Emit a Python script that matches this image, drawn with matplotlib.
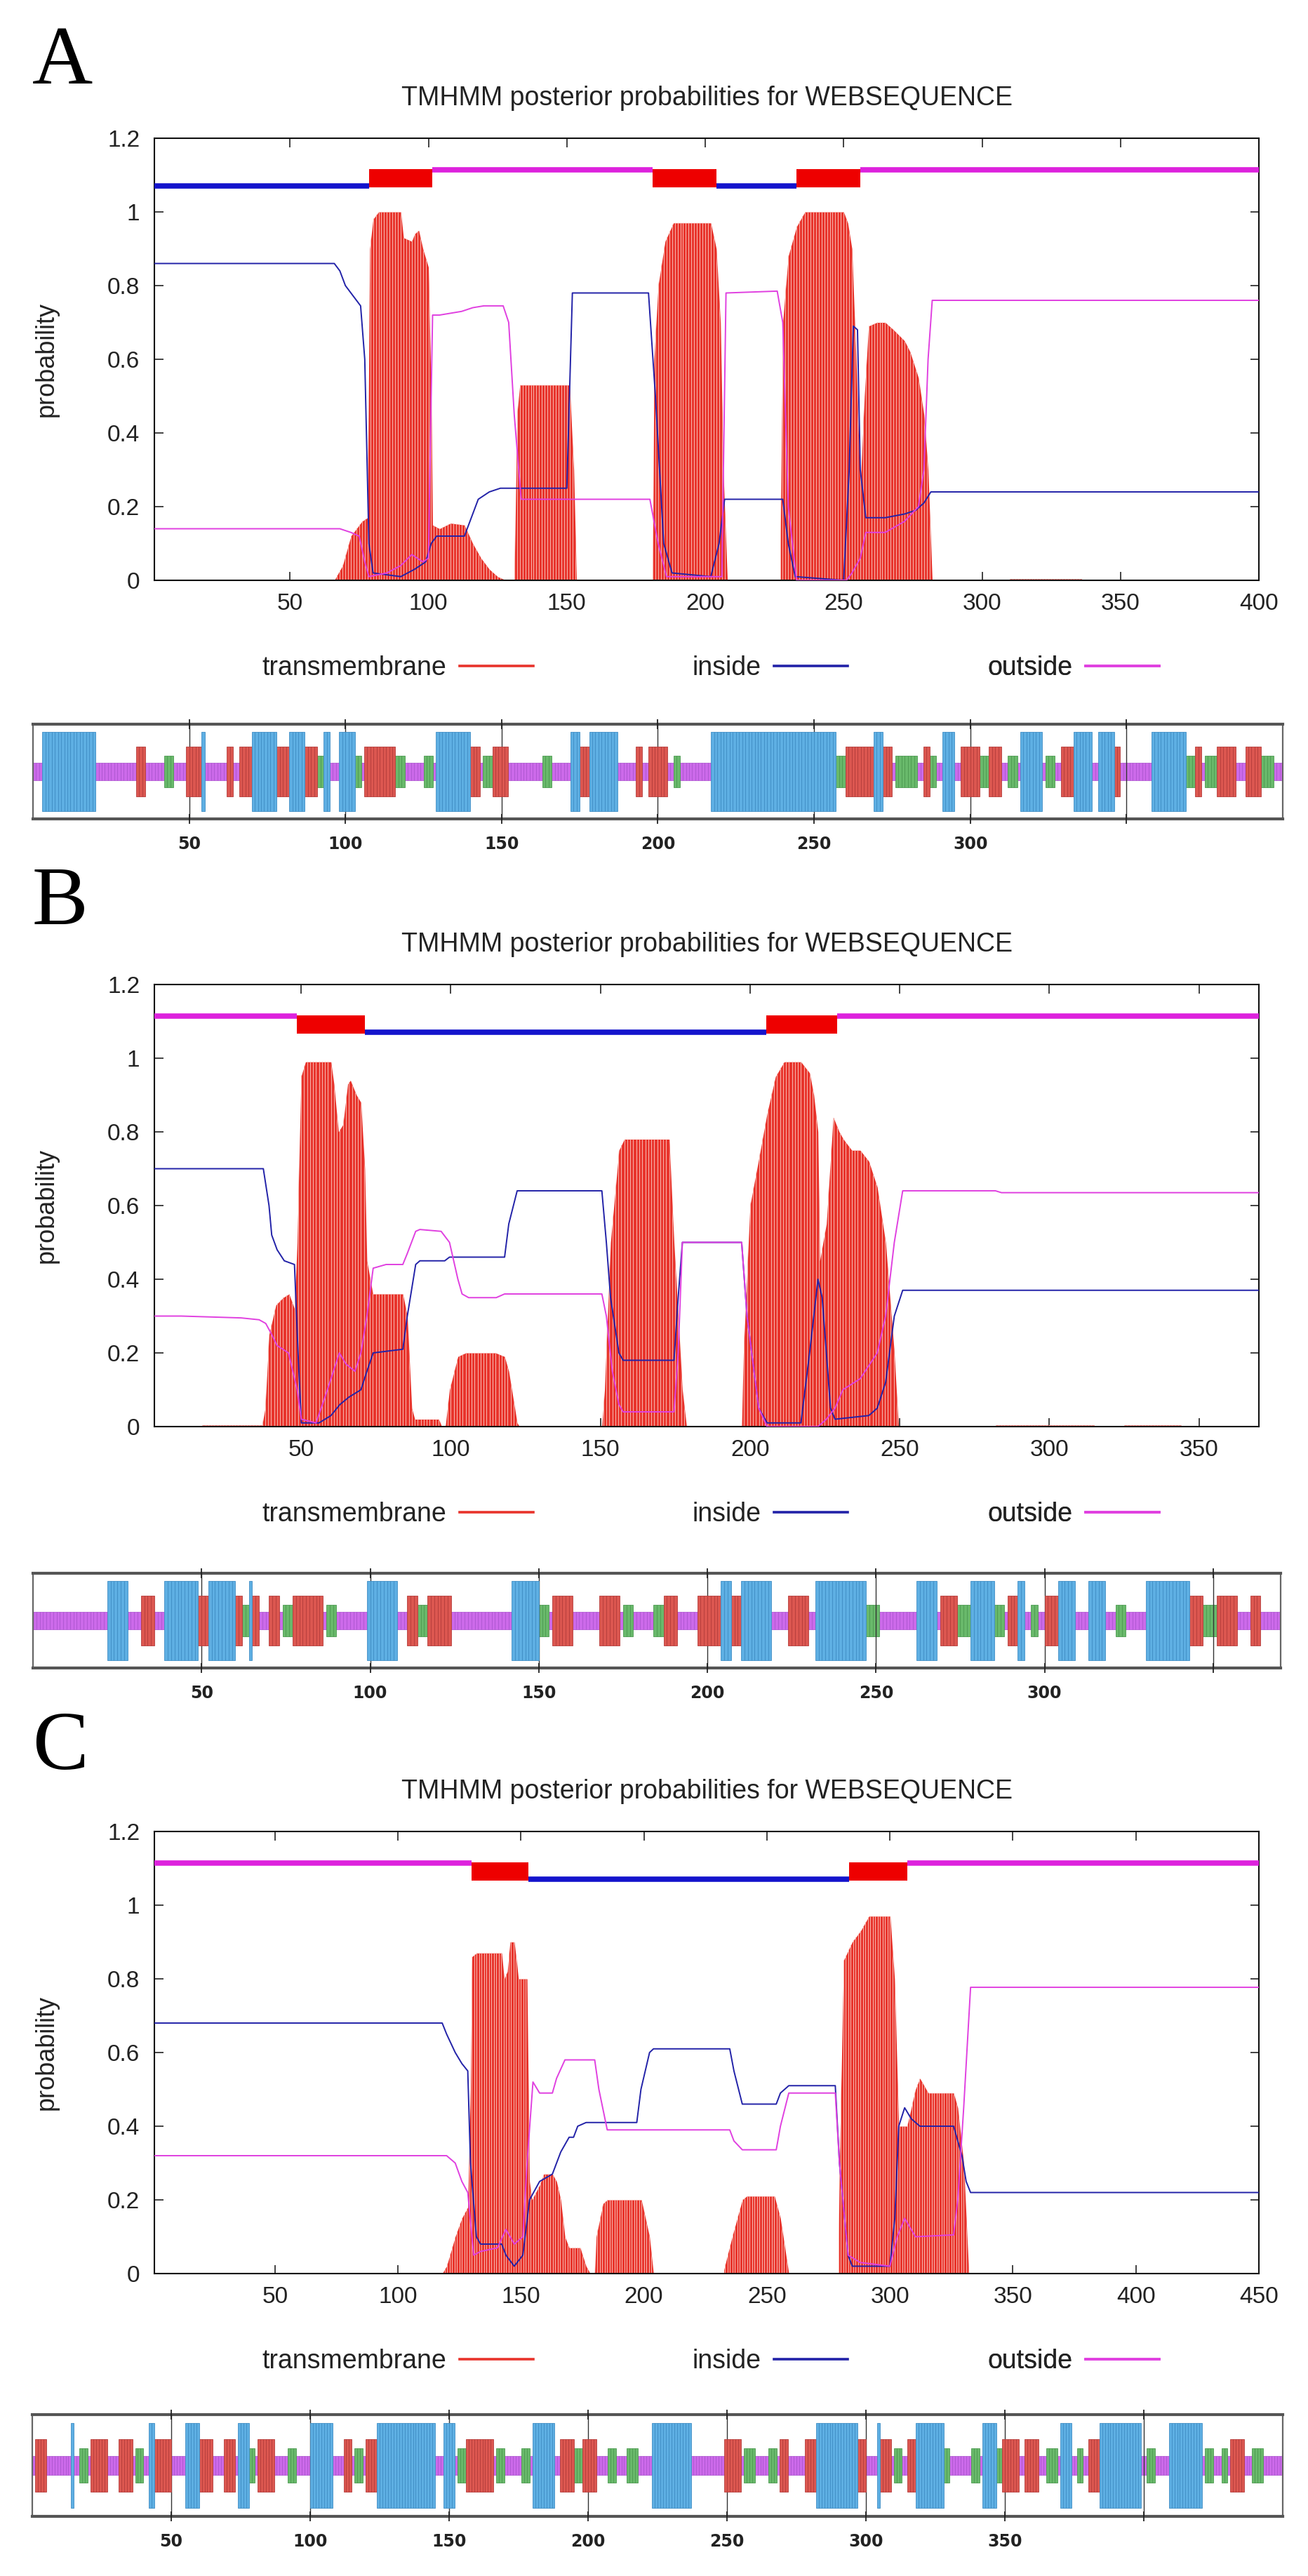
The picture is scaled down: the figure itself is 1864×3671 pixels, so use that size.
import numpy as np
import matplotlib
matplotlib.use('Agg')
import matplotlib.pyplot as plt
from matplotlib.lines import Line2D

# ---------------------------------------------------------------- data
TITLE = "TMHMM posterior probabilities for WEBSEQUENCE"
LEGEND_LABELS = ["transmembrane", "inside", "outside"]
Y_TICKS = [0, 0.2, 0.4, 0.6, 0.8, 1.0, 1.2]
Y_TICK_LABELS = ["0", "0.2", "0.4", "0.6", "0.8", "1", "1.2"]

# ---- panel A (length 400)
len_A = 400
xticks_A = [50, 100, 150, 200, 250, 300, 350, 400]
tm_A_x = [1, 66, 69, 72, 76, 78, 78.8, 80, 82, 90, 91, 94, 95, 96.5, 98, 100, 101, 101.5, 104, 108, 113, 116,
          119, 122, 125, 128, 131, 132, 133, 151, 152.5, 153.5, 181, 181.5, 183, 185.5, 188.5, 202, 204, 205.5,
          206.5, 208, 227, 228, 230, 233, 236, 250, 251.5, 253, 254.5, 256, 257.5, 259, 262, 265, 268, 272,
          274, 277, 279, 280.5, 282, 310, 310, 336, 336, 400]
tm_A_y = [0, 0, 0.04, 0.12, 0.16, 0.17, 0.9, 0.98, 1.0, 1.0, 0.93, 0.92, 0.94, 0.95, 0.9, 0.85, 0.5, 0.15, 0.14,
          0.155, 0.15, 0.1, 0.06, 0.03, 0.01, 0, 0, 0.45, 0.53, 0.53, 0.3, 0, 0, 0.6, 0.8, 0.92, 0.97, 0.97, 0.9,
          0.7, 0.3, 0, 0, 0.7, 0.88, 0.96, 1.0, 1.0, 0.97, 0.9, 0.6, 0.25, 0.5, 0.69, 0.7, 0.7, 0.68, 0.65,
          0.62, 0.55, 0.45, 0.3, 0, 0, 0.004, 0.004, 0, 0]
in_A_x = [1, 66, 68, 70, 73, 75.5, 77, 78.5, 80, 90, 95, 99, 101, 103, 113, 115, 118, 122, 126, 150, 152,
          179.5, 182, 185, 188, 202, 205, 207, 228, 230, 232.5, 250, 252, 253.5, 255, 256, 258, 265, 272, 276,
          279, 281.5, 400]
in_A_y = [0.86, 0.86, 0.84, 0.8, 0.77, 0.745, 0.6, 0.1, 0.02, 0.01, 0.03, 0.05, 0.1, 0.12, 0.12, 0.16, 0.22,
          0.24, 0.25, 0.25, 0.78, 0.78, 0.5, 0.1, 0.02, 0.01, 0.1, 0.22, 0.22, 0.1, 0.01, 0.0, 0.3, 0.69, 0.68,
          0.3, 0.17, 0.17, 0.18, 0.19, 0.21, 0.24, 0.24]
out_A_x = [1, 68, 72, 75, 77, 78.5, 85, 90, 94, 98, 100, 101.5, 104, 112, 116, 120, 127, 129, 131, 133.5, 180,
           183, 186, 206, 207.5, 226, 228, 230, 233, 251, 253, 256, 258, 265, 272, 277, 279, 280.5, 282, 400]
out_A_y = [0.14, 0.14, 0.13, 0.12, 0.05, 0.01, 0.02, 0.04, 0.07, 0.05, 0.06, 0.72, 0.72, 0.73, 0.74, 0.745,
           0.745, 0.7, 0.45, 0.22, 0.22, 0.1, 0.01, 0.01, 0.78, 0.785, 0.7, 0.2, 0.0, 0.0, 0.02, 0.06, 0.13,
           0.13, 0.16, 0.2, 0.3, 0.6, 0.76, 0.76]
topo_in_A = [(1, 78.5), (204, 233)]
topo_out_A = [(101.5, 181), (256, 400)]
topo_tm_A = [(78.5, 101.5), (181, 204), (233, 256)]
strip_ticks_A = [50, 100, 150, 200, 250, 300, 350]
strip_labels_A = ["50", "100", "150", "200", "250", "300", ""]
strip_blue_A = [(4, 20), (55, 55), (71, 78), (83, 87), (94, 95), (99, 103), (130, 140), (173, 175), (179, 187),
                (218, 257), (270, 272), (292, 295), (317, 323), (334, 339), (342, 346), (359, 369)]
strip_red_A = [(34, 36), (50, 54), (63, 64), (67, 70), (79, 82), (88, 91), (107, 116), (141, 143), (148, 152),
               (176, 178), (194, 195), (198, 203), (261, 269), (273, 275), (286, 287), (298, 303), (307, 310),
               (330, 333), (347, 348), (373, 374), (380, 385), (389, 393)]
strip_green_A = [(43, 45), (92, 93), (104, 105), (117, 119), (126, 128), (145, 147), (164, 166), (206, 207),
                 (258, 260), (277, 280), (281, 283), (288, 289), (304, 306), (313, 315), (325, 327), (370, 372),
                 (376, 379), (394, 397)]

# ---- panel B (length 370)
len_B = 370
xticks_B = [50, 100, 150, 200, 250, 300, 350]
tm_B_x = [1, 17, 17, 37, 38, 39.3, 41.6, 44, 46, 47.8, 48.7, 50, 51.5, 60, 61, 62.5, 64, 65.6, 66.5, 68.5, 70,
          71.3, 72, 74, 84, 85.5, 87, 88, 96, 97, 98.2, 99.6, 102.4, 105, 115, 118, 119.4, 122.2, 123, 150.5,
          151.4, 153.4, 156.2, 158, 173, 174.6, 177.4, 178.8, 197.2, 197.8, 200, 203, 205.7, 208.5, 211.4, 217,
          219.9, 221.3, 222.7, 223.3, 225.5, 227.8, 229.8, 231.2, 234, 236.8, 239.7, 242.5, 245.3, 248.2,
          249.6, 282, 282, 315, 315, 325, 325, 344, 344, 370]
tm_B_y = [0, 0, 0.004, 0.004, 0.05, 0.25, 0.33, 0.35, 0.36, 0.32, 0.5, 0.95, 0.99, 0.99, 0.93, 0.8, 0.82, 0.93,
          0.94, 0.9, 0.88, 0.7, 0.45, 0.36, 0.36, 0.3, 0.05, 0.02, 0.02, 0.0, 0.0, 0.1, 0.19, 0.2, 0.2, 0.19,
          0.15, 0.01, 0, 0, 0.1, 0.5, 0.75, 0.78, 0.78, 0.5, 0.1, 0, 0, 0.2, 0.6, 0.73, 0.85, 0.95, 0.99, 0.99,
          0.96, 0.9, 0.8, 0.45, 0.55, 0.84, 0.8, 0.78, 0.75, 0.75, 0.72, 0.65, 0.5, 0.2, 0, 0, 0.004, 0.004, 0,
          0, 0.004, 0.004, 0, 0]
in_B_x = [1, 37.4, 39.3, 40.2, 42, 44.4, 47.8, 49, 50.1, 56, 60, 63, 66, 70, 72, 74.1, 84, 85.5, 88.3, 89.7, 98,
          99.6, 118, 119.4, 122.2, 150.5, 152, 153.4, 156.2, 157.6, 174.6, 176, 177.4, 197.2, 199, 202.9, 205.7,
          217, 219.9, 222.7, 224.1, 226.9, 228.4, 239.7, 242.5, 245.3, 248.2, 251, 370]
in_B_y = [0.70, 0.70, 0.6, 0.52, 0.48, 0.45, 0.44, 0.2, 0.01, 0.01, 0.03, 0.06, 0.08, 0.1, 0.15, 0.2, 0.21, 0.3,
          0.44, 0.45, 0.45, 0.46, 0.46, 0.55, 0.64, 0.64, 0.5, 0.35, 0.2, 0.18, 0.18, 0.35, 0.5, 0.5, 0.3, 0.05,
          0.01, 0.01, 0.2, 0.4, 0.35, 0.05, 0.02, 0.03, 0.05, 0.12, 0.3, 0.37, 0.37]
out_B_x = [1, 10, 30, 36, 38.2, 40.2, 42, 45.8, 48.7, 50.1, 55, 58, 60.8, 62.8, 65, 68, 70, 72, 74.1, 78.4, 84,
           85.5, 88.3, 89.7, 96.8, 99.6, 102.4, 103.8, 106, 115.2, 118, 150.5, 152, 154, 156.2, 157.6, 174.6,
           176, 177.4, 197.2, 199, 202.9, 205.7, 222.7, 225.5, 228.4, 231, 236.8, 242.5, 245.3, 248.2, 251, 282,
           284, 370]
out_B_y = [0.30, 0.30, 0.295, 0.29, 0.28, 0.25, 0.22, 0.2, 0.1, 0.02, 0.01, 0.08, 0.15, 0.2, 0.17, 0.15, 0.2,
           0.3, 0.43, 0.44, 0.44, 0.47, 0.53, 0.535, 0.53, 0.5, 0.4, 0.36, 0.35, 0.35, 0.36, 0.36, 0.3, 0.15,
           0.06, 0.04, 0.04, 0.2, 0.5, 0.5, 0.3, 0.05, 0.0, 0.0, 0.02, 0.05, 0.1, 0.13, 0.2, 0.3, 0.5, 0.64,
           0.64, 0.635, 0.635]
topo_in_B = [(71.3, 205.5)]
topo_out_B = [(1, 48.7), (229, 370)]
topo_tm_B = [(48.7, 71.3), (205.5, 229)]
strip_ticks_B = [50, 100, 150, 200, 250, 300, 350]
strip_labels_B = ["50", "100", "150", "200", "250", "300", ""]
strip_blue_B = [(23, 28), (40, 49), (53, 60), (65, 65), (100, 108), (143, 150), (205, 207), (211, 219),
                (233, 247), (263, 268), (279, 285), (293, 294), (305, 309), (314, 318), (331, 343)]
strip_red_B = [(33, 36), (50, 52), (61, 62), (66, 67), (71, 73), (78, 86), (112, 114), (118, 124), (155, 160),
               (169, 174), (188, 191), (198, 204), (208, 210), (225, 230), (270, 274), (290, 292), (301, 304),
               (344, 347), (352, 357), (362, 364)]
strip_green_B = [(63, 64), (75, 77), (88, 90), (115, 117), (151, 153), (176, 178), (185, 187), (248, 251),
                 (275, 278), (286, 288), (297, 298), (322, 324), (348, 351)]

# ---- panel C (length 450)
len_C = 450
xticks_C = [50, 100, 150, 200, 250, 300, 350, 400, 450]
tm_C_x = [1, 118, 119.8, 123.3, 126, 128.4, 129.5, 130.1, 132, 142.2, 143.2, 144.5, 145.6, 147.3, 148.2, 149,
          152.5, 153.5, 154.5, 157.6, 159.3, 162.8, 164.5, 166.2, 167.9, 169.6, 174.1, 176.5, 178.2, 180, 180.6,
          183.4, 185.1, 199, 202.3, 203.9, 232.5, 232.5, 235.9, 240, 241.8, 253.1, 255.5, 258.9, 279, 279.5,
          281.2, 284.7, 288.1, 291.5, 300.1, 301.9, 303.6, 307, 310.4, 312.2, 315.6, 325.9, 327.6, 330, 332.1,
          450]
tm_C_y = [0, 0, 0.02, 0.1, 0.15, 0.18, 0.5, 0.86, 0.87, 0.87, 0.8, 0.82, 0.9, 0.9, 0.85, 0.8, 0.8, 0.25, 0.2,
          0.24, 0.27, 0.27, 0.25, 0.2, 0.1, 0.07, 0.07, 0.02, 0, 0, 0.1, 0.19, 0.2, 0.2, 0.1, 0, 0, 0.01, 0.1,
          0.2, 0.21, 0.21, 0.15, 0, 0, 0.3, 0.85, 0.9, 0.93, 0.97, 0.97, 0.8, 0.4, 0.4, 0.5, 0.53, 0.49, 0.49,
          0.45, 0.3, 0, 0]
in_C_x = [1, 118, 119.8, 123.3, 126, 128.4, 129.5, 131.9, 133.6, 142.2, 143.9, 147.3, 150.8, 153.5, 157.6,
          162.8, 166.2, 169.6, 171.4, 173.1, 176.5, 197.1, 198.8, 202.3, 203.9, 234.9, 236.6, 240, 253.8, 255.5,
          258.9, 277.8, 279.5, 283, 284.7, 300, 302, 303.6, 306, 308.7, 312.2, 325.9, 329.3, 331, 332.8, 450]
in_C_y = [0.68, 0.68, 0.65, 0.6, 0.57, 0.55, 0.3, 0.1, 0.08, 0.08, 0.05, 0.02, 0.05, 0.2, 0.25, 0.27, 0.33,
          0.37, 0.37, 0.4, 0.41, 0.41, 0.5, 0.6, 0.61, 0.61, 0.55, 0.46, 0.46, 0.49, 0.51, 0.51, 0.3, 0.05,
          0.02, 0.02, 0.15, 0.4, 0.45, 0.42, 0.4, 0.4, 0.32, 0.25, 0.22, 0.22]
out_C_x = [1, 119.8, 123.3, 126, 128.4, 130.8, 133.6, 140.5, 143.9, 147.3, 150.8, 152.5, 154.9, 157.6, 162.8,
           164.5, 167.9, 180, 181.7, 185.1, 234.9, 236.6, 240, 253.8, 255.5, 258.9, 277.8, 279.5, 283, 288, 300,
           303, 306, 310.4, 325.9, 327.6, 330, 332.8, 450]
out_C_y = [0.32, 0.32, 0.3, 0.25, 0.22, 0.05, 0.06, 0.07, 0.12, 0.08, 0.1, 0.3, 0.52, 0.49, 0.49, 0.53, 0.58,
           0.58, 0.5, 0.39, 0.39, 0.36, 0.336, 0.336, 0.4, 0.49, 0.49, 0.3, 0.05, 0.03, 0.02, 0.1, 0.15, 0.1,
           0.105, 0.2, 0.45, 0.777, 0.777]
topo_in_C = [(153, 283.5)]
topo_out_C = [(1, 130), (307, 450)]
topo_tm_C = [(130, 153), (283.5, 307)]
strip_ticks_C = [50, 100, 150, 200, 250, 300, 350, 400]
strip_labels_C = ["50", "100", "150", "200", "250", "300", "350", ""]
strip_blue_C = [(15, 15), (43, 44), (56, 60), (75, 78), (101, 108), (125, 145), (149, 152), (181, 188),
                (224, 237), (283, 297), (305, 305), (319, 328), (343, 347), (371, 374), (385, 399), (410, 421)]
strip_red_C = [(2, 5), (22, 27), (32, 36), (45, 50), (61, 65), (70, 73), (82, 87), (113, 115), (121, 124),
               (157, 166), (191, 195), (199, 203), (250, 255), (270, 272), (279, 282), (298, 300), (306, 309),
               (316, 318), (350, 355), (358, 362), (381, 384), (432, 436)]
strip_green_C = [(18, 20), (38, 40), (79, 80), (93, 95), (117, 119), (154, 156), (168, 170), (177, 179),
                 (196, 198), (208, 210), (215, 218), (257, 260), (266, 268), (311, 313), (329, 330), (339, 341),
                 (348, 349), (366, 369), (377, 378), (402, 404), (423, 425), (429, 430), (440, 443)]

# ---------------------------------------------------------------- style
W, H = 1864, 3671
SANS = ['Liberation Sans', 'DejaVu Sans']
SERIF = ['Liberation Serif', 'DejaVu Serif']
NARROW = ['Liberation Sans Narrow', 'DejaVu Sans']
C_TM = '#e8332b'
C_STRIPE = '#f8b4ab'
C_IN = '#2222a8'
C_OUT = '#e040e0'
C_TOPO_IN = '#1414cc'
C_TOPO_OUT = '#dd22dd'
C_BOX = '#ee0000'
SC_BLUE, SC_BLUE_E = '#5eafe3', '#3f8dc4'
SC_RED, SC_RED_E = '#dc5750', '#b43c3a'
SC_GREEN, SC_GREEN_E = '#69b96b', '#4c9a50'
SC_MAG, SC_MAG_E = '#cc6aea', '#a850cc'

fig = plt.figure(figsize=(W / 100, H / 100), dpi=100)


def fx(px):
    return px / W


def fy(py):
    return 1 - py / H


def draw_plot(letter, letter_base, ax_top, N, xticks, tm, ins, outs, topo_in, topo_out, topo_tm):
    ax = fig.add_axes([fx(220), fy(ax_top + 630), 1574 / W, 630 / H])
    # transmembrane impulses (filled area + residue stripes)
    poly = ax.fill_between(tm[0], 0, tm[1], color=C_TM, linewidth=0, zorder=2)
    stripes = ax.vlines(np.arange(1, N + 1), 0, 1.2, colors=C_STRIPE, linewidth=0.75, zorder=2.5)
    stripes.set_clip_path(poly.get_paths()[0], ax.transData)
    ax.plot(ins[0], ins[1], color=C_IN, lw=1.4, zorder=3)
    ax.plot(outs[0], outs[1], color=C_OUT, lw=1.4, zorder=3)
    # topology bar
    for s, e in topo_in:
        ax.hlines(1.071, s, e, color=C_TOPO_IN, lw=5.5, zorder=4)
    for s, e in topo_out:
        ax.hlines(1.114, s, e, color=C_TOPO_OUT, lw=5.5, zorder=4)
    ax.broken_barh([(s, e - s) for s, e in topo_tm], (1.067, 0.049), facecolor=C_BOX,
                   edgecolor='none', zorder=5)
    ax.set_xlim(1, N)
    ax.set_ylim(0, 1.2)
    ax.set_xticks(xticks)
    ax.set_xticklabels([str(t) for t in xticks])
    ax.set_yticks(Y_TICKS)
    ax.set_yticklabels(Y_TICK_LABELS)
    ax.tick_params(direction='in', top=True, right=True, length=9, width=1.2,
                   labelsize=24, colors='#222222')
    ax.tick_params(axis='x', pad=13)
    ax.tick_params(axis='y', pad=15)
    for lab in ax.get_xticklabels() + ax.get_yticklabels():
        lab.set_family(SANS)
    for sp in ax.spines.values():
        sp.set_linewidth(1.5)
        sp.set_color('#111111')
    ax.set_ylabel('probability', fontsize=26, family=SANS, color='#222222', va='center')
    ax.yaxis.set_label_coords((66 - 220) / 1574, 0.5)
    ax.text(0.5, 1 + 57 / 630, TITLE, transform=ax.transAxes, ha='center', va='center',
            fontsize=27, family=SANS, color='#222222')
    # legend (gnuplot style: label then sample, right aligned)
    handles = [Line2D([], [], color=C_TM, lw=2.6),
               Line2D([], [], color=C_IN, lw=2.6),
               Line2D([], [], color=C_OUT, lw=2.6)]
    for h, lab, xe in zip(handles, LEGEND_LABELS, [0.343, 0.628, 0.910]):
        leg = ax.legend(handles=[h], labels=[lab], loc='center right',
                        bbox_to_anchor=(xe, -125 / 630), markerfirst=False, frameon=False,
                        handlelength=2.8, handletextpad=0.5, borderpad=0, borderaxespad=0,
                        prop={'family': SANS, 'size': 27})
        for t in leg.get_texts():
            t.set_color('#222222')
        ax.add_artist(leg)
    fig.text(fx(46), fy(letter_base), letter, fontsize=86, family=SERIF, ha='left', va='baseline')
    return ax


def draw_strip(rect, N, ticks, labels, blue, red, green):
    sax = fig.add_axes(rect)
    allres = np.arange(1, N + 1)
    sax.bar(allres - 0.5, 0.19, bottom=0.5 - 0.095, width=1, color=SC_MAG, edgecolor=SC_MAG_E,
            linewidth=0.5, zorder=1)
    for runs, half, fc, ec, z in [(green, 0.17, SC_GREEN, SC_GREEN_E, 2),
                                  (red, 0.26, SC_RED, SC_RED_E, 3),
                                  (blue, 0.415, SC_BLUE, SC_BLUE_E, 4)]:
        for s, e in runs:
            r = np.arange(s, e + 1)
            sax.bar(r - 0.5, 2 * half, bottom=0.5 - half, width=1, color=fc, edgecolor=ec,
                    linewidth=0.6, zorder=z)
    sax.set_xlim(0, N)
    sax.set_ylim(0, 1)
    sax.set_yticks([])
    sax.set_xticks(ticks)
    sax.set_xticklabels(labels)
    sax.tick_params(axis='x', direction='inout', top=True, length=10, width=1.3, pad=12,
                    labelsize=17, colors='#222222')
    for lab in sax.get_xticklabels():
        lab.set_family(NARROW)
        lab.set_fontweight('bold')
    sax.grid(axis='x', color='#333333', lw=1.0, zorder=6)
    sax.set_axisbelow(False)
    for k in ['top', 'bottom']:
        sax.spines[k].set_linewidth(3)
        sax.spines[k].set_color('#555555')
    for k in ['left', 'right']:
        sax.spines[k].set_linewidth(1.6)
        sax.spines[k].set_color('#666666')
    return sax


draw_plot('A', 119, 197, len_A, xticks_A, (tm_A_x, tm_A_y), (in_A_x, in_A_y), (out_A_x, out_A_y),
          topo_in_A, topo_out_A, topo_tm_A)
draw_strip([fx(47), fy(1167), 1781 / W, 135 / H], len_A, strip_ticks_A, strip_labels_A,
           strip_blue_A, strip_red_A, strip_green_A)

draw_plot('B', 1317, 1403, len_B, xticks_B, (tm_B_x, tm_B_y), (in_B_x, in_B_y), (out_B_x, out_B_y),
          topo_in_B, topo_out_B, topo_tm_B)
draw_strip([fx(47), fy(2377), 1778 / W, 135 / H], len_B, strip_ticks_B, strip_labels_B,
           strip_blue_B, strip_red_B, strip_green_B)

draw_plot('C', 2521, 2610, len_C, xticks_C, (tm_C_x, tm_C_y), (in_C_x, in_C_y), (out_C_x, out_C_y),
          topo_in_C, topo_out_C, topo_tm_C)
draw_strip([fx(46), fy(3586), 1782 / W, 145 / H], len_C, strip_ticks_C, strip_labels_C,
           strip_blue_C, strip_red_C, strip_green_C)

fig.savefig('out.png', dpi=100, facecolor='white')
